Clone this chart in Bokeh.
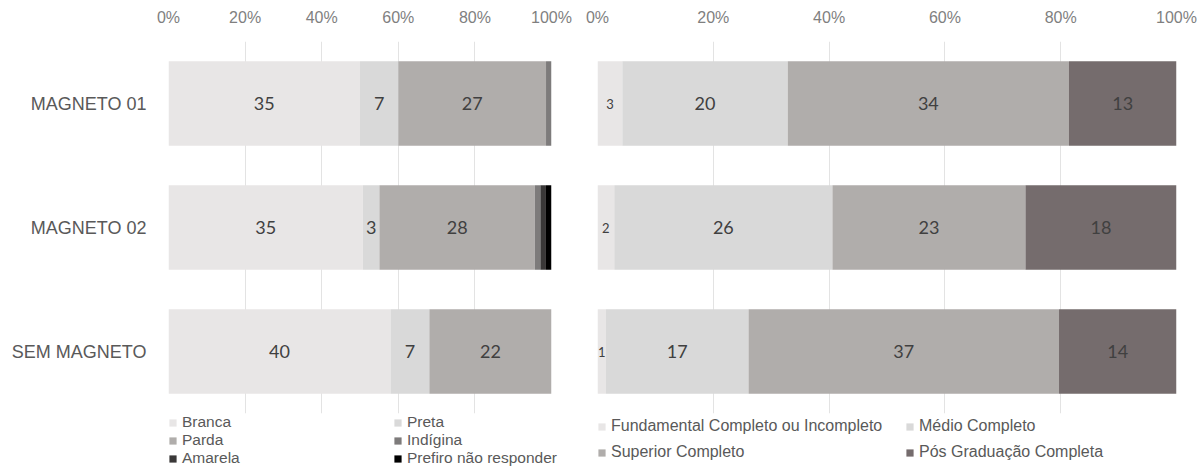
from bokeh.plotting import figure
from bokeh.models import (ColumnDataSource, FactorRange, Range1d, Legend, LegendItem,
                          FixedTicker, PrintfTickFormatter)
from bokeh.layouts import row
from bokeh.embed import file_html
from bokeh.resources import INLINE
from bokeh.core.properties import value

# ---------------- data ----------------
groups = ["MAGNETO 01", "MAGNETO 02", "SEM MAGNETO"]

raca_names = ["Branca", "Preta", "Parda", "Indígina", "Amarela", "Prefiro não responder"]
branca = [35, 35, 40]
preta = [7, 3, 7]
parda = [27, 28, 22]
indigina = [1, 1, 0]
amarela = [0, 1, 0]
prefiro = [0, 1, 0]

esc_names = ["Fundamental Completo ou Incompleto", "Médio Completo",
             "Superior Completo", "Pós Graduação Completa"]
fundamental = [3, 2, 1]
medio = [20, 26, 17]
superior = [34, 23, 37]
pos_grad = [13, 18, 14]

tick_values = [0, 20, 40, 60, 80, 100]

# ---------------- style ----------------
raca_colors = ["#e8e6e6", "#d9d9d9", "#b0adab", "#7d7b7b", "#3a3838", "#000000"]
raca_show = [True, True, True, False, False, False]
raca_small = [False] * 6
esc_colors = ["#e8e6e6", "#d9d9d9", "#b0adab", "#756c6d"]
esc_show = [True, True, True, True]
esc_small = [True, False, False, False]

AX_FONT = "Liberation Sans"
LBL_FONT = "Lato"


def make_panel(names, series, colors, show, small, frame_width, bl, br, show_y,
               legend_cfg):
    n = len(groups)
    totals = [sum(s[i] for s in series) for i in range(n)]
    data = {"grupo": groups}
    keys = []
    for k, vals in enumerate(series):
        key = "s%d" % k
        data[key] = [100.0 * v / t for v, t in zip(vals, totals)]
        keys.append(key)
    src = ColumnDataSource(data)

    p = figure(y_range=FactorRange(*reversed(groups)), x_range=Range1d(0, 100),
               frame_width=frame_width, frame_height=372,
               min_border_left=bl, min_border_right=br,
               min_border_top=41, min_border_bottom=0,
               x_axis_location="above", output_backend="svg",
               toolbar_location=None)
    rends = p.hbar_stack(keys, y="grupo", height=0.68, fill_color=colors,
                         line_color=None, source=src)

    # data labels
    lx, ly, lt, ls = [], [], [], []
    for i in range(n):
        left = 0.0
        for k, vals in enumerate(series):
            w = data[keys[k]][i]
            if show[k] and vals[i] > 0:
                lx.append(left + w / 2.0)
                ly.append(groups[i])
                lt.append(str(vals[i]))
                ls.append("13px" if small[k] else "18px")
            left += w
    lsrc = ColumnDataSource(dict(x=lx, y=ly, t=lt, s=ls))
    p.text(x="x", y="y", text="t", text_font_size="s", text_color="#404040",
           text_align="center", text_baseline="middle",
           text_font=value(LBL_FONT), source=lsrc)

    # axes / grid
    p.xaxis.ticker = FixedTicker(ticks=tick_values)
    p.xaxis.formatter = PrintfTickFormatter(format="%d%%")
    p.xaxis.axis_line_color = None
    p.xaxis.major_tick_line_color = None
    p.xaxis.minor_tick_line_color = None
    p.xaxis.major_label_text_font = AX_FONT
    p.xaxis.major_label_text_font_size = "16px"
    p.xaxis.major_label_text_color = "#7f7f7f"
    p.xaxis.major_label_standoff = 10

    p.yaxis.axis_line_color = None
    p.yaxis.major_tick_line_color = None
    p.yaxis.minor_tick_line_color = None
    p.yaxis.major_label_text_font = AX_FONT
    p.yaxis.major_label_text_font_size = "18px"
    p.yaxis.major_label_text_color = "#595959"
    p.yaxis.major_label_standoff = 16
    p.yaxis.visible = show_y

    p.xgrid.ticker = FixedTicker(ticks=tick_values)
    p.xgrid.grid_line_color = "#e3e3e3"
    p.ygrid.grid_line_color = None
    p.outline_line_color = None

    # legend
    items = [LegendItem(label=nm, renderers=[r]) for nm, r in zip(names, rends)]
    lg = Legend(items=items, orientation="horizontal", ncols=2,
                location="top_left", padding=0, margin=legend_cfg["m"], spacing=0,
                glyph_width=9, glyph_height=9,
                label_standoff=5, label_width=legend_cfg["lw"],
                label_height=legend_cfg["lh"],
                label_text_font=AX_FONT,
                label_text_font_size=legend_cfg["fs"],
                label_text_color="#595959",
                background_fill_alpha=0, border_line_color=None)
    p.add_layout(lg, "below")
    return p


p1 = make_panel(raca_names, [branca, preta, parda, indigina, amarela, prefiro],
                raca_colors, raca_show, raca_small, 383, 168, 24, True,
                dict(m=0, lw=211, lh=18, fs="15.5px"))
p2 = make_panel(esc_names, [fundamental, medio, superior, pos_grad],
                esc_colors, esc_show, esc_small, 579, 22, 21, False,
                dict(m=0, lw=294, lh=26, fs="16px"))

layout = row(p1, p2, spacing=0)
open("out.html", "w").write(file_html(layout, INLINE))
